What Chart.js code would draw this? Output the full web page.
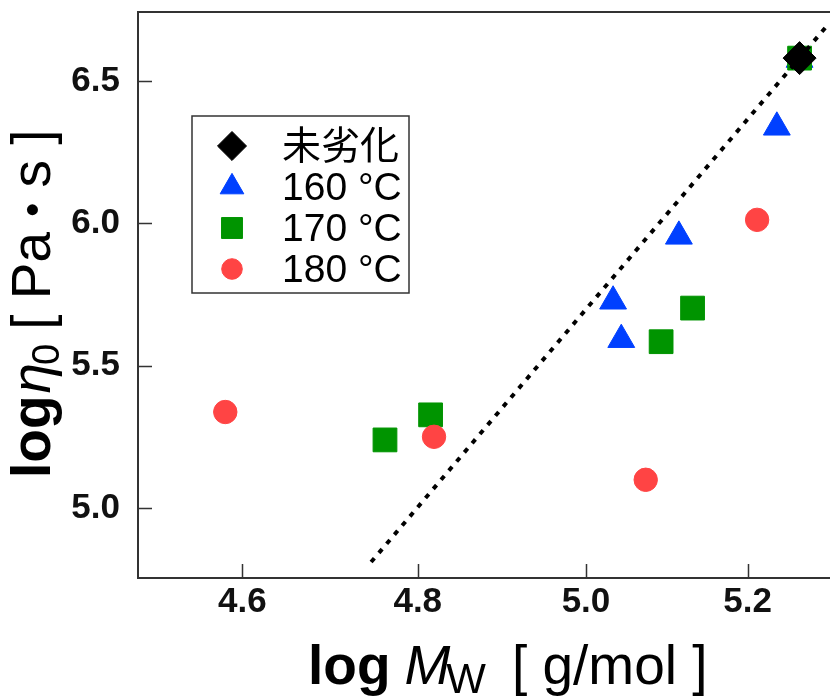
<!DOCTYPE html>
<html>
<head>
<meta charset="utf-8">
<script src="https://cdn.jsdelivr.net/npm/chart.js"></script>
<style>
  html, body { margin: 0; padding: 0; background: #fff; overflow: hidden; }
  canvas { display: block; }
</style>
</head>
<body>
<canvas id="viscChart" width="830" height="696"></canvas>
<script>
// log Mw (x) vs log eta0 (y) for each degradation temperature
const labels = ['未劣化', '160 °C', '170 °C', '180 °C'];

const xBase = [5.266];
const yBase = [6.58];

const x160 = [5.033, 5.043, 5.114, 5.237, 5.266];
const y160 = [5.726, 5.591, 5.954, 6.337, 6.575];

const x170 = [4.762, 4.815, 5.092, 5.131, 5.266];
const y170 = [5.239, 5.327, 5.584, 5.702, 6.58];

const x180 = [4.581, 4.819, 5.073, 5.212];
const y180 = [5.337, 5.250, 5.099, 6.012];

// slope 3.4 reference line
const fitX = [4.746, 5.300];
const fitY = [4.81, 6.69];

const xTicks = [4.6, 4.8, 5.0, 5.2];
const yTicks = [5.0, 5.5, 6.0, 6.5];

const FONT = "'Liberation Sans', 'Noto Sans CJK JP', Arial, sans-serif";

function pts(xs, ys) {
  return xs.map(function(x, i) { return { x: x, y: ys[i] }; });
}

function markerSet(label, xs, ys, color, style, radius, order) {
  return {
    label: label,
    data: pts(xs, ys),
    pointStyle: style,
    pointRadius: radius,
    pointBackgroundColor: color,
    pointBorderColor: color,
    pointBorderWidth: 1,
    showLine: false,
    order: order
  };
}

const datasets = [
  markerSet(labels[0], xBase, yBase, '#000000', 'rectRot', 16.5, 0),
  markerSet(labels[1], x160, y160, '#0040ff', 'triangle', 15.5, 4),
  markerSet(labels[2], x170, y170, '#009400', 'rect', 16.8, 3),
  markerSet(labels[3], x180, y180, '#ff4444', 'circle', 11.7, 2),
  {
    label: 'fit',
    data: pts(fitX, fitY),
    showLine: true,
    borderColor: '#000',
    borderWidth: 4,
    borderDash: [5, 7],
    borderCapStyle: 'butt',
    pointRadius: 0,
    order: 1
  }
];

// draws a run of text pieces with their own fonts, left to right
function drawRich(ctx, parts, x, y) {
  parts.forEach(function(p) {
    ctx.font = p.font;
    ctx.fillText(p.text, x, y + (p.dy || 0));
    x += ctx.measureText(p.text).width + (p.gap || 0);
  });
}

// no extra room for the end tick labels: the box runs to the canvas edge
function fixSize(prop, size) {
  return function(scale) {
    scale[prop] = size;
    scale.paddingLeft = 0;
    scale.paddingRight = 0;
    scale.paddingTop = 0;
    scale.paddingBottom = 0;
  };
}

const framePlugin = {
  id: 'frame',
  afterDraw: function(chart) {
    const ctx = chart.ctx;
    const a = chart.chartArea;
    const xs = chart.scales.x;
    const ys = chart.scales.y;
    ctx.save();

    // top edge of the box
    ctx.strokeStyle = '#333';
    ctx.lineWidth = 2;
    ctx.beginPath();
    ctx.moveTo(a.left, a.top);
    ctx.lineTo(a.right, a.top);
    ctx.stroke();

    // inward tick marks
    ctx.lineWidth = 1.5;
    ctx.beginPath();
    xs.ticks.forEach(function(t) {
      const px = Math.round(xs.getPixelForValue(t.value)) + 0.5;
      ctx.moveTo(px, a.bottom);
      ctx.lineTo(px, a.bottom - 14);
    });
    ys.ticks.forEach(function(t) {
      const py = Math.round(ys.getPixelForValue(t.value)) + 0.5;
      ctx.moveTo(a.left, py);
      ctx.lineTo(a.left + 14, py);
    });
    ctx.stroke();

    // legend box
    const lx = 192, ly = 116, lw = 217, lh = 177;
    ctx.fillStyle = '#fff';
    ctx.fillRect(lx, ly, lw, lh);
    ctx.strokeStyle = '#333';
    ctx.lineWidth = 1.5;
    ctx.strokeRect(lx, ly, lw, lh);
    ctx.textBaseline = 'middle';
    ctx.textAlign = 'left';
    for (let i = 0; i < 4; i++) {
      const ds = chart.data.datasets[i];
      const cy = ly + 30 + i * 41;
      ctx.fillStyle = ds.pointBackgroundColor;
      ctx.strokeStyle = ds.pointBorderColor;
      ctx.lineWidth = 1;
      Chart.helpers.drawPoint(ctx, {
        pointStyle: ds.pointStyle,
        radius: ds.pointRadius * 0.88,
        rotation: 0,
        borderWidth: 1
      }, lx + 40, cy);
      ctx.fillStyle = '#000';
      ctx.font = '39px ' + FONT;
      ctx.fillText(ds.label, lx + 90, cy + 2);
    }

    // axis titles
    ctx.fillStyle = '#000';
    ctx.textBaseline = 'alphabetic';
    drawRich(ctx, [
      { text: 'log', font: 'bold 55px ' + FONT, gap: 14 },
      { text: 'M', font: 'italic 55px ' + FONT, gap: -4 },
      { text: 'W', font: '42px ' + FONT, dy: 9, gap: 26 },
      { text: '[ g/mol ]', font: '55px ' + FONT }
    ], 308, 684);

    ctx.translate(50, 478);
    ctx.rotate(-Math.PI / 2);
    drawRich(ctx, [
      { text: 'log', font: 'bold 55px ' + FONT, gap: 2 },
      { text: 'η', font: 'italic 55px ' + FONT, gap: -2 },
      { text: '0', font: '38px ' + FONT, dy: 9, gap: 14 },
      { text: '[ Pa ', font: '55px ' + FONT },
      { text: '•', font: '40px ' + FONT, dy: -4 },
      { text: ' s ]', font: '55px ' + FONT }
    ], 0, 0);

    ctx.restore();
  }
};

const tickFont = { family: FONT, size: 35, weight: 'bold' };

new Chart(document.getElementById('viscChart').getContext('2d'), {
  type: 'scatter',
  data: { datasets: datasets },
  options: {
    responsive: false,
    animation: false,
    layout: { autoPadding: false, padding: { top: 12, right: 0, bottom: 0, left: 0 } },
    plugins: {
      legend: { display: false },
      tooltip: { enabled: false }
    },
    scales: {
      x: {
        type: 'logarithmic',
        min: 4.485,
        max: 5.305,
        grid: { display: false },
        border: { display: true, color: '#333', width: 2 },
        ticks: {
          font: tickFont,
          color: '#111',
          padding: -5,
          maxRotation: 0,
          autoSkip: false,
          callback: function(v) { return Number(v).toFixed(1); }
        },
        afterBuildTicks: function(scale) {
          scale.ticks = xTicks.map(function(v) { return { value: v }; });
        },
        afterFit: fixSize('height', 118)
      },
      y: {
        min: 4.754,
        max: 6.742,
        grid: { display: false },
        border: { display: true, color: '#333', width: 2 },
        ticks: {
          font: tickFont,
          color: '#111',
          padding: 10,
          callback: function(v) { return Number(v).toFixed(1); }
        },
        afterBuildTicks: function(scale) {
          scale.ticks = yTicks.map(function(v) { return { value: v }; });
        },
        afterFit: fixSize('width', 138)
      }
    }
  },
  plugins: [framePlugin]
});
</script>
</body>
</html>
